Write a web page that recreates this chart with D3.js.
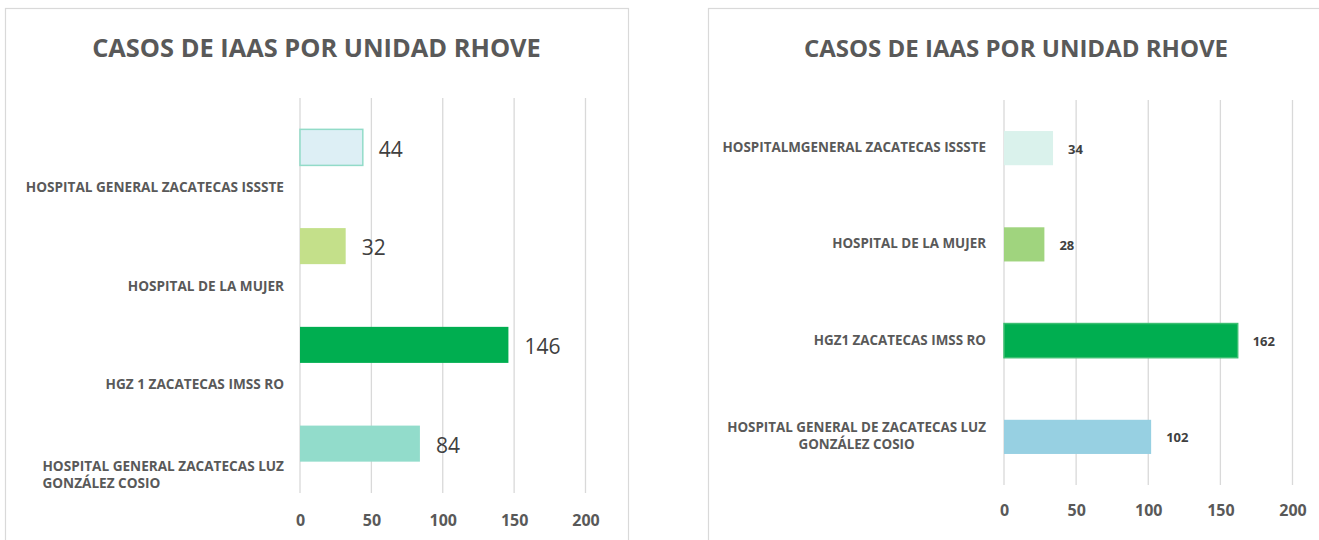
<!DOCTYPE html>
<html>
<head>
<meta charset="utf-8">
<script src="https://cdn.jsdelivr.net/npm/d3@7"></script>
<style>
    body { margin: 0; background: #fff; }
    svg { display: block; }
    text { font-family: "Open Sans", sans-serif; }
</style>
</head>
<body>
<div id="chartArea"></div>
<script>
// Data
let titleText = "CASOS DE IAAS POR UNIDAD RHOVE";
let ticks = [0, 50, 100, 150, 200];

let leftCategories = [
    "HOSPITAL GENERAL ZACATECAS ISSSTE",
    "HOSPITAL DE LA MUJER",
    "HGZ 1 ZACATECAS IMSS RO",
    "HOSPITAL GENERAL ZACATECAS LUZ GONZÁLEZ COSIO"
];
let leftValues = [44, 32, 146, 84];

let rightCategories = [
    "HOSPITALMGENERAL ZACATECAS ISSSTE",
    "HOSPITAL DE LA MUJER",
    "HGZ1 ZACATECAS IMSS RO",
    "HOSPITAL GENERAL DE ZACATECAS LUZ GONZÁLEZ COSIO"
];
let rightValues = [34, 28, 162, 102];

// styles
let leftFills = ["#ddeff5", "#c4e08a", "#00ae50", "#92dccb"];
let leftStrokes = ["#92dbc8", "none", "none", "none"];
let rightFills = ["#daf2ec", "#a0d47e", "#00ae50", "#97d0e2"];
let rightStrokes = ["none", "none", "#3cbf72", "none"];

let svg = d3.select("#chartArea")
    .append('svg')
        .attr('width', 1319)
        .attr('height', 540);

function wrapWords(textSel, words, maxWidth) {
    // split words into lines that fit maxWidth
    let lines = [];
    let current = [];
    words.forEach(w => {
        current.push(w);
        textSel.text(current.join(' '));
        if (textSel.node().getComputedTextLength() > maxWidth && current.length > 1) {
            current.pop();
            lines.push(current.join(' '));
            current = [w];
        }
    });
    lines.push(current.join(' '));
    textSel.text(null);
    return lines;
}

function drawGraph(cfg) {
    let g = svg.append('g');

    // chart border
    g.append('rect')
        .attr('x', cfg.box[0] + 0.5)
        .attr('y', cfg.box[1] + 0.5)
        .attr('width', cfg.box[2])
        .attr('height', cfg.box[3])
        .attr('fill', '#fff')
        .attr('stroke', '#d9d9d9')
        .attr('stroke-width', 1.2);

    g.append('text')
        .attr('x', cfg.box[0] + cfg.box[2] / 2)
        .attr('y', 57)
        .attr('text-anchor', 'middle')
        .attr('font-size', cfg.titleSize)
        .attr('font-weight', 700)
        .attr('fill', '#595959')
        .text(titleText);

    let xScale = d3.scaleLinear()
        .domain([0, 200])
        .range([cfg.x0, cfg.x1]);

    let yScale = d3.scaleBand()
        .domain(cfg.categories)
        .range([cfg.top, cfg.bottom])
        .paddingInner(cfg.padding)
        .paddingOuter(cfg.padding / 2);

    let rows = d3.scaleBand()
        .domain(cfg.categories)
        .range([cfg.top, cfg.bottom]);

    // gridlines
    g.append('g')
        .selectAll('line')
        .data(ticks)
        .join('line')
            .attr('x1', d => xScale(d))
            .attr('x2', d => xScale(d))
            .attr('y1', cfg.top)
            .attr('y2', cfg.bottom)
            .attr('stroke', '#d9d9d9')
            .attr('stroke-width', 1.3);

    // x axis labels
    let xAxis = g.append('g')
        .attr('transform', 'translate(0, ' + cfg.tickY + ')')
        .call(d3.axisBottom(xScale).tickValues(ticks).tickSize(0).tickPadding(0));
    xAxis.select('.domain').remove();
    xAxis.selectAll('text')
        .attr('font-family', '"Open Sans", sans-serif')
        .attr('font-size', '16px')
        .attr('font-weight', 700)
        .attr('fill', '#595959');

    let data = cfg.categories.map((c, i) => ({ cat: c, value: cfg.values[i], i: i }));

    g.append('g')
        .selectAll('rect')
        .data(data)
        .join('rect')
            .attr('x', xScale(0))
            .attr('y', d => yScale(d.cat))
            .attr('width', d => xScale(d.value) - xScale(0))
            .attr('height', yScale.bandwidth())
            .attr('fill', d => cfg.fills[d.i])
            .attr('stroke', d => cfg.strokes[d.i])
            .attr('stroke-width', 1.5);

    // value labels
    g.append('g')
        .selectAll('text')
        .data(data)
        .join('text')
            .attr('x', d => xScale(d.value) + cfg.valueGap)
            .attr('y', d => yScale(d.cat) + yScale.bandwidth() / 2 + cfg.valueShift)
            .attr('dy', '0.35em')
            .attr('font-size', cfg.valueSize)
            .attr('font-weight', cfg.valueWeight)
            .attr('fill', '#404040')
            .text(d => d.value);

    // category labels
    let lh = 17;
    data.forEach(d => {
        let t = g.append('text')
            .attr('font-size', cfg.labelSize)
            .attr('font-weight', 700)
            .attr('fill', '#595959');
        let lines = wrapWords(t, d.cat.split(' '), cfg.wrapWidth);
        let widths = lines.map(l => {
            t.text(l);
            return t.node().getComputedTextLength();
        });
        t.text(null);
        let maxW = d3.max(widths);
        let firstY;
        if (cfg.labelMode === 'bottom') {
            firstY = rows(d.cat) + rows.bandwidth() - 5 - (lines.length - 1) * lh;
        } else {
            firstY = yScale(d.cat) + yScale.bandwidth() / 2 + 4 - (lines.length - 1) * lh / 2;
        }
        lines.forEach((l, k) => {
            let tx = t.append('tspan').text(l).attr('y', firstY + k * lh);
            if (cfg.labelMode === 'bottom') {
                tx.attr('x', cfg.labelRight - maxW);
            } else {
                tx.attr('x', cfg.labelRight - maxW / 2).attr('text-anchor', 'middle');
            }
        });
    });
}

drawGraph({
    box: [5, 8, 623, 560],
    categories: leftCategories,
    values: leftValues,
    fills: leftFills,
    strokes: leftStrokes,
    titleSize: '25.4px',
    x0: 300, x1: 585.5,
    top: 98, bottom: 493,
    padding: 0.635,
    tickY: 515,
    valueGap: 16,
    valueSize: '21px',
    valueWeight: 400,
    valueShift: 2,
    labelSize: '13.6px',
    wrapWidth: 268,
    labelRight: 284,
    labelMode: 'bottom'
});

drawGraph({
    box: [708, 8, 616, 560],
    categories: rightCategories,
    values: rightValues,
    fills: rightFills,
    strokes: rightStrokes,
    titleSize: '24px',
    x0: 1004, x1: 1292.5,
    top: 100, bottom: 485,
    padding: 0.645,
    tickY: 505,
    valueGap: 15,
    valueSize: '13px',
    valueWeight: 700,
    valueShift: 1,
    labelSize: '13.4px',
    wrapWidth: 280,
    labelRight: 986,
    labelMode: 'center'
});
</script>
</body>
</html>
